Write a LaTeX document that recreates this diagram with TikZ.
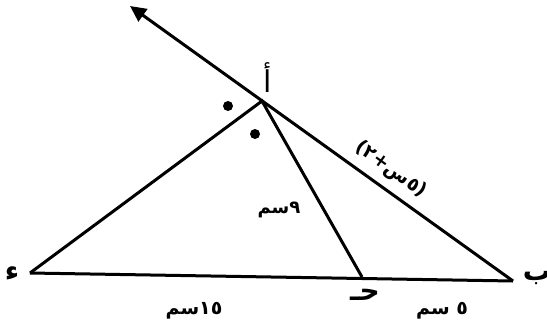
\documentclass[tikz,border=0pt]{standalone}
\usepackage{fontspec}
\newfontfamily\arabicfont[Script=Arabic]{DejaVu Sans}
\TeXXeTstate=1
\usetikzlibrary{arrows.meta}
\tikzset{
  seg/.style={line width=3pt},
  vlabel/.style={font=\arabicfont\bfseries\fontsize{28}{30}\selectfont, inner sep=0pt},
  mlabel/.style={font=\arabicfont\bfseries\fontsize{19}{22}\selectfont, inner sep=0pt},
  dotmark/.style={fill=black}
}
\begin{document}
\begin{tikzpicture}[x=1pt,y=-1pt]
\useasboundingbox (0,0) rectangle (547,333);
\coordinate (A) at (262,101);
\coordinate (B) at (513,281);
\coordinate (D) at (30,273);
\coordinate (J) at (362,277);
\coordinate (T) at (130,6);
\draw[seg] (D) -- (B);
\draw[seg, line join=miter] (D) -- (A) -- (J);
\draw[seg, -{Triangle[length=16pt,width=15pt]}] (B) -- (T);
\fill[dotmark] (228,106) circle (5);
\fill[dotmark] (255,134) circle (5);
\node[vlabel, font=\arabicfont\fontsize{30}{32}\selectfont] (lA) at (268,78) {\beginR أ\endR};
\node[vlabel] (lB) at (537,278) {\beginR ب\endR};
\node[vlabel, font=\arabicfont\bfseries\fontsize{28}{30}\selectfont] (lD) at (12,274) {\beginR ء\endR};
\node[vlabel] (lJ) at (365,295) {\beginR حـ\endR};
\node[mlabel, font=\arabicfont\bfseries\fontsize{18}{20}\selectfont] (l9) at (279,210) {\beginR ٩سم\endR};
\node[mlabel] (l15) at (194,311) {\beginR ١٥سم\endR};
\node[mlabel] (l5) at (442,311) {\beginR ٥ سم\endR};
\node[mlabel, rotate=-35.6] (lx) at (391,170) {\beginR (٥س+٢)\endR};
\end{tikzpicture}
\end{document}
